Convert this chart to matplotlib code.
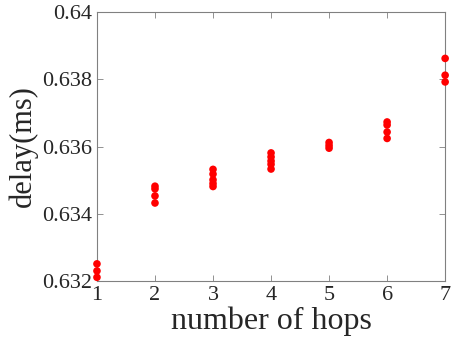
import matplotlib.pyplot as plt
import numpy as np

# delay measurements per number of hops (ms)
hops = [1, 2, 3, 4, 5, 6, 7]
delay_h1 = [0.63251, 0.63230, 0.63211]
delay_h2 = [0.63482, 0.63474, 0.63453, 0.63432]
delay_h3 = [0.63532, 0.63518, 0.63501, 0.63490, 0.63481]
delay_h4 = [0.63581, 0.63569, 0.63557, 0.63547, 0.63533]
delay_h5 = [0.63612, 0.63603, 0.63595]
delay_h6 = [0.63673, 0.63664, 0.63643, 0.63624]
delay_h7 = [0.63862, 0.63812, 0.63792]

xticks = [1, 2, 3, 4, 5, 6, 7]
yticks = [0.632, 0.634, 0.636, 0.638, 0.640]
ytick_labels = ['0.632', '0.634', '0.636', '0.638', '0.64']

plt.rcParams['font.family'] = ['Liberation Serif', 'DejaVu Serif']
axis_gray = '#262626'

fig = plt.figure(figsize=(4.51, 3.48), dpi=100)
ax = fig.add_axes([0.215, 0.1925, 0.772, 0.773])

all_delays = [delay_h1, delay_h2, delay_h3, delay_h4, delay_h5, delay_h6, delay_h7]
for h, vals in zip(hops, all_delays):
    ax.scatter([h] * len(vals), vals, s=30, color='red', edgecolors='none',
               zorder=3, clip_on=False)

ax.set_xlim(1, 7)
ax.set_ylim(0.632, 0.640)
ax.set_xticks(xticks)
ax.set_yticks(yticks)
ax.set_yticklabels(ytick_labels)

ax.tick_params(direction='in', length=4, width=0.6, colors='#808080',
               labelcolor=axis_gray, labelsize=16, top=True, right=True)
for s in ax.spines.values():
    s.set_color('#808080')
    s.set_linewidth(0.8)

ax.set_xlabel('number of hops', fontsize=23, color=axis_gray, labelpad=1)
ax.set_ylabel('delay(ms)', fontsize=22, color=axis_gray, labelpad=3)

plt.savefig('out.png', dpi=100)
